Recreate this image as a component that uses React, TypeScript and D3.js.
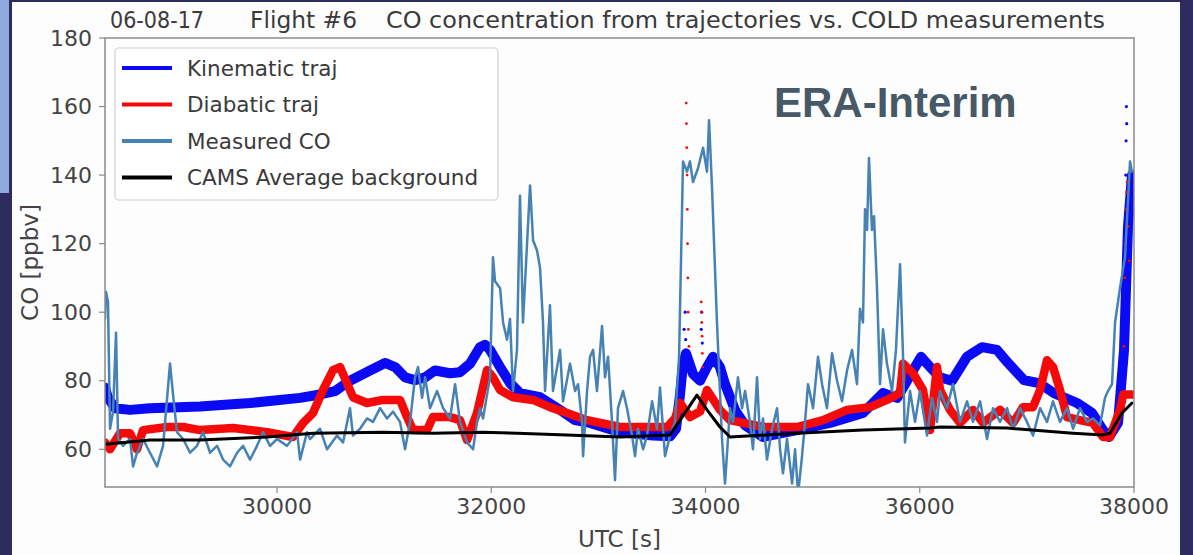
import React from 'react';
import * as d3 from 'd3';

const W = 1193;
const H = 555;

const titleParts = ['06-08-17', 'Flight #6', 'CO concentration from trajectories vs. COLD measurements'];
const yTicks = [60, 80, 100, 120, 140, 160, 180];
const xTicks = [30000, 32000, 34000, 36000, 38000];
const seriesNames = ['Kinematic traj', 'Diabatic traj', 'Measured CO', 'CAMS Average background'];
const seriesColors = ['#0a0af5', '#f50a0a', '#4682b4', '#000000'];

const kinematic: [number, number][] = [
  [28394, 78], [28422, 75], [28488, 72], [28628, 71.5], [28814, 72], [29281, 72.5], [29748, 73.5],
  [30215, 75], [30401, 76], [30541, 77], [30681, 80], [30868, 83], [31008, 85.2], [31102, 84],
  [31195, 81], [31288, 80.2], [31382, 81], [31475, 83], [31615, 82.2], [31708, 82.5], [31802, 85],
  [31895, 89.8], [31942, 90.5], [31988, 89], [32082, 84], [32175, 79.3], [32268, 76.4], [32455, 75.2],
  [32642, 71.5], [32782, 68.5], [32922, 67.7], [33202, 65], [33510, 64], [33669, 63.8], [33725, 66],
  [33762, 76], [33790, 85], [33818, 88], [33883, 82], [33949, 80], [34014, 84], [34070, 87],
  [34135, 84], [34182, 79], [34275, 71.5], [34369, 67], [34537, 63.6], [34854, 65.6], [35162, 67.7],
  [35470, 70.6], [35657, 76.4], [35788, 75], [35937, 83], [36012, 87], [36096, 84], [36189, 81],
  [36301, 80], [36441, 87], [36581, 89.8], [36721, 89], [36824, 85.2], [36973, 80.2], [37113, 79.3],
  [37253, 76.4], [37468, 73.5], [37608, 70.6], [37711, 65.6], [37767, 63.6], [37851, 67.7],
  [37907, 89], [37944, 125], [37981, 140],
];

const kinematicDots: [number, number][] = [
  [33800, 95], [33810, 100], [33815, 92], [33960, 95], [33965, 100], [33970, 91],
  [37915, 100], [37920, 120], [37923, 140], [37926, 150], [37929, 160], [37932, 155], [37940, 130],
];

const diabatic: [number, number][] = [
  [28394, 62], [28441, 60], [28534, 64.7], [28628, 64.7], [28693, 60], [28749, 65.6], [28973, 66.5],
  [29123, 66.5], [29281, 65.6], [29589, 66.2], [29907, 65], [30149, 63.6], [30243, 67.7], [30336, 70.6],
  [30429, 77.3], [30523, 83.1], [30588, 84], [30653, 79.3], [30709, 75.2], [30840, 73.5], [30990, 74.4],
  [31148, 74.4], [31214, 69.4], [31270, 65.6], [31400, 65.6], [31456, 69.4], [31615, 69.4], [31708, 68.5],
  [31774, 62.7], [31867, 70.6], [31960, 83.1], [32016, 81], [32082, 77.3], [32203, 75.2], [32390, 74.4],
  [32548, 72.3], [32707, 70.6], [32894, 68.5], [33202, 66.5], [33510, 66.5], [33641, 66.5], [33715, 69],
  [33762, 73.5], [33855, 69.4], [33949, 71], [34014, 77.3], [34135, 71.5], [34229, 68.5], [34537, 66.5],
  [34854, 66.5], [35097, 68.5], [35321, 71.5], [35536, 72.3], [35694, 74.4], [35816, 76.4], [35844, 85],
  [35937, 82.2], [36030, 77.3], [36096, 65.6], [36161, 84], [36189, 77.3], [36282, 71.5], [36376, 67.7],
  [36497, 71.5], [36591, 67.7], [36749, 71.5], [36871, 67.7], [36964, 72.3], [37057, 72.3], [37123, 77.3],
  [37188, 86], [37244, 84], [37309, 77.3], [37375, 69.4], [37496, 68.5], [37617, 67.7], [37711, 63.6],
  [37776, 63.6], [37869, 71.5], [37900, 76], [37981, 76],
];

const diabaticDots: [number, number][] = [
  [33820, 161], [33822, 155], [33825, 148], [33828, 140], [33830, 130], [33832, 120], [33835, 110],
  [33838, 100], [33840, 95], [33845, 90], [33960, 103], [33962, 100], [33965, 97], [33968, 93],
  [33970, 88], [33975, 84], [37905, 90], [37915, 110], [37920, 120], [37925, 130], [37930, 135],
  [37935, 138], [37945, 125], [37955, 115],
];

const measured: [number, number][] = [
  [28394, 98], [28403, 106], [28422, 103], [28441, 66], [28469, 71], [28497, 94], [28516, 63],
  [28562, 61], [28628, 63], [28656, 55], [28693, 59], [28749, 63], [28814, 59], [28880, 55],
  [28936, 61], [29001, 85], [29029, 76], [29066, 65], [29123, 63], [29188, 59], [29253, 61],
  [29309, 65], [29375, 59], [29440, 61], [29496, 57], [29561, 55], [29627, 59], [29683, 61],
  [29748, 57], [29813, 61], [29869, 65], [29935, 61], [30000, 63], [30093, 61], [30187, 65],
  [30215, 57], [30280, 65], [30308, 63], [30401, 66], [30467, 60], [30560, 64], [30616, 62],
  [30681, 72], [30709, 64], [30775, 66], [30840, 69], [30896, 68], [30962, 72], [31027, 69],
  [31083, 71], [31148, 68], [31195, 60], [31242, 68], [31288, 81], [31316, 84], [31354, 75],
  [31382, 81], [31428, 72], [31494, 77], [31550, 72], [31615, 69], [31662, 79], [31708, 68],
  [31774, 62], [31830, 60], [31867, 68], [31895, 72], [31923, 69], [31988, 81], [32016, 116],
  [32035, 109], [32082, 107], [32110, 97], [32147, 92], [32175, 98], [32203, 77], [32240, 89],
  [32268, 134], [32296, 97], [32362, 137], [32390, 121], [32427, 118], [32455, 113], [32483, 97],
  [32502, 77], [32548, 102], [32576, 77], [32642, 89], [32670, 74], [32735, 85], [32782, 77],
  [32810, 79], [32847, 68], [32857, 58], [32894, 77], [32922, 87], [32950, 89], [32987, 77],
  [33034, 96], [33062, 81], [33090, 87], [33127, 68], [33155, 51], [33183, 72], [33230, 77],
  [33267, 72], [33314, 64], [33342, 58], [33370, 66], [33417, 60], [33454, 64], [33501, 74],
  [33547, 66], [33575, 78], [33622, 58], [33669, 64], [33715, 68], [33753, 87], [33790, 144],
  [33827, 141], [33855, 144], [33883, 138], [33930, 142], [33977, 148], [34014, 141], [34033, 156],
  [34061, 136], [34107, 97], [34154, 63], [34182, 50], [34229, 72], [34257, 68], [34303, 81],
  [34341, 72], [34369, 77], [34415, 68], [34443, 60], [34481, 81], [34509, 63], [34537, 69],
  [34574, 57], [34621, 66], [34668, 72], [34696, 60], [34723, 53], [34761, 63], [34808, 50],
  [34836, 60], [34864, 47], [34901, 58], [34929, 68], [34957, 79], [35004, 72], [35050, 87],
  [35088, 79], [35134, 72], [35181, 88], [35228, 80], [35274, 74], [35321, 83], [35368, 89],
  [35414, 79], [35442, 101], [35470, 97], [35489, 130], [35508, 124], [35526, 145], [35554, 124],
  [35573, 128], [35601, 107], [35629, 79], [35657, 95], [35694, 85], [35741, 77], [35778, 89],
  [35816, 114], [35844, 87], [35862, 62], [35909, 77], [35956, 68], [36002, 77], [36068, 64],
  [36114, 75], [36161, 68], [36189, 77], [36254, 72], [36310, 79], [36376, 68], [36441, 74],
  [36497, 68], [36563, 74], [36628, 63], [36684, 72], [36749, 68], [36815, 72], [36871, 66],
  [36936, 72], [37001, 68], [37057, 64], [37123, 72], [37188, 68], [37244, 74], [37309, 68],
  [37375, 72], [37431, 66], [37496, 72], [37561, 68], [37617, 69], [37683, 67], [37729, 75],
  [37757, 77], [37795, 79], [37823, 97], [37869, 107], [37916, 116], [37963, 144], [37981, 141],
];

const cams: [number, number][] = [
  [28394, 61.5], [28814, 62.7], [29281, 62.7], [29907, 63.6], [30336, 64.7], [30990, 65],
  [31456, 64.7], [31923, 65], [32240, 64.7], [32707, 64.2], [33202, 63.6], [33669, 64.2],
  [33762, 68.5], [33920, 75.8], [34014, 71.5], [34135, 66.5], [34229, 63.6], [34854, 64.7],
  [35470, 65.6], [36096, 66.2], [36189, 66.5], [36815, 66.2], [37431, 64.7], [37711, 64.2],
  [37776, 64.7], [37888, 70.6], [37981, 73.5],
];

const FONT = 'DejaVu Sans, sans-serif';

export default function App() {
  const left = 105, right = 1134, top = 38, bottom = 487;
  const x = d3.scaleLinear().domain([28394, 38000]).range([left, right]);
  const y = d3.scaleLinear().domain([49, 180]).range([bottom, top]);
  const line = d3.line<[number, number]>().x(d => x(d[0])).y(d => y(d[1]));

  const legendRows = seriesNames.map((n, i) => ({ n, c: seriesColors[i], yy: 68 + i * 36.5 }));
  const titleLayout = [
    { x: 110, w: 94 },
    { x: 250, w: 107 },
    { x: 386, w: 719 },
  ];

  return (
    <svg width={W} height={H} style={{ position: 'absolute', left: 0, top: 0, display: 'block' }}
      xmlns="http://www.w3.org/2000/svg">
      <defs>
        <clipPath id="plotClip">
          <rect x={left} y={top} width={right - left} height={bottom - top} />
        </clipPath>
      </defs>
      <rect x={0} y={0} width={W} height={H} fill="#2e2c5f" />
      <rect x={12} y={2} width={1168} height={H - 2} fill="#fdfdfd" />
      <rect x={0} y={0} width={9} height={193} fill="#8eaadf" />

      {/* title */}
      <g fontFamily={FONT} fontSize={23} fill="#3a3a3a">
        {titleParts.map((t, i) => (
          <text key={t} x={titleLayout[i].x} y={28} textLength={titleLayout[i].w} lengthAdjust="spacingAndGlyphs">{t}</text>
        ))}
      </g>

      {/* data */}
      <g clipPath="url(#plotClip)" fill="none" strokeLinejoin="round" strokeLinecap="round">
        <path d={line(kinematic) || ''} stroke={seriesColors[0]} strokeWidth={10} />
        {kinematicDots.map((d, i) => (
          <circle key={'kd' + i} cx={x(d[0])} cy={y(d[1])} r={1.6} fill={seriesColors[0]} stroke="none" />
        ))}
        <path d={line(diabatic) || ''} stroke={seriesColors[1]} strokeWidth={8.5} />
        {diabaticDots.map((d, i) => (
          <circle key={'dd' + i} cx={x(d[0])} cy={y(d[1])} r={1.4} fill={seriesColors[1]} stroke="none" />
        ))}
        <path d={line(measured) || ''} stroke={seriesColors[2]} strokeWidth={2.5} />
        <path d={line(cams) || ''} stroke={seriesColors[3]} strokeWidth={3} />
      </g>

      {/* axes frame */}
      <rect x={left} y={top} width={right - left} height={bottom - top} fill="none" stroke="#8a8a8a" strokeWidth={1.5} />

      {/* ticks and axis labels */}
      <g fontFamily={FONT} fontSize={22} fill="#444">
        {yTicks.map(t => (
          <g key={'y' + t}>
            <line x1={left - 6} x2={left} y1={y(t)} y2={y(t)} stroke="#8a8a8a" strokeWidth={1.2} />
            <text x={92} y={y(t)} textAnchor="end" dominantBaseline="central">{t}</text>
          </g>
        ))}
        {xTicks.map(t => (
          <g key={'x' + t}>
            <line x1={x(t)} x2={x(t)} y1={bottom} y2={bottom + 6} stroke="#8a8a8a" strokeWidth={1.2} />
            <text x={x(t)} y={514} textAnchor="middle">{t}</text>
          </g>
        ))}
      </g>
      <g fontFamily={FONT} fontSize={23} fill="#444">
        <text x={(left + right) / 2} y={547} textAnchor="middle">UTC [s]</text>
        <text transform={`translate(38, ${(top + bottom) / 2}) rotate(-90)`} textAnchor="middle">CO [ppbv]</text>
      </g>

      {/* legend */}
      <rect x={115} y={48} width={383} height={152} rx={4} fill="#ffffff" fillOpacity={0.85} stroke="#d0d0d0" strokeWidth={1.2} />
      <g fontFamily={FONT} fontSize={21.5} fill="#3a3a3a">
        {legendRows.map(r => (
          <g key={r.n}>
            <line x1={122} x2={172} y1={r.yy} y2={r.yy} stroke={r.c} strokeWidth={4} />
            <text x={187} y={r.yy} dominantBaseline="central">{r.n}</text>
          </g>
        ))}
      </g>

      <text x={774} y={117} fontFamily="Liberation Sans, Arial, sans-serif" fontWeight="bold" fontSize={42} fill="#475866">ERA-Interim</text>
    </svg>
  );
}
